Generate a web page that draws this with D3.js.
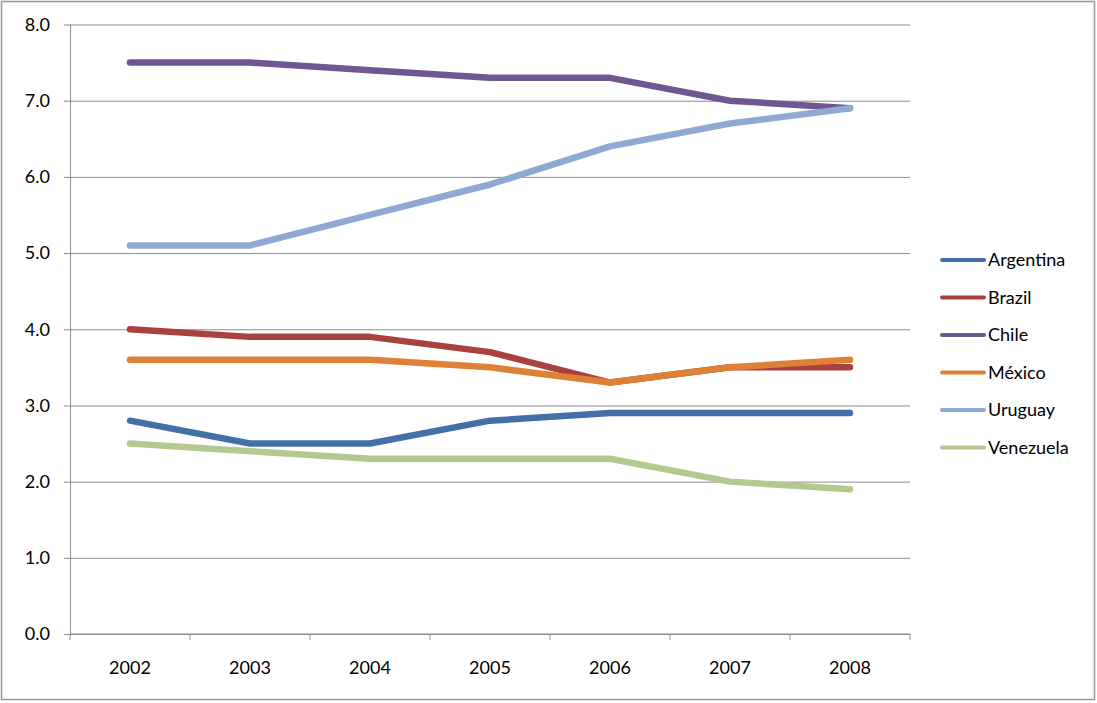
<!DOCTYPE html>
<html>
<head>
<meta charset="utf-8">
<script src="https://cdn.jsdelivr.net/npm/d3@7"></script>
<style>
  body { margin: 0; background: #fff; }
  svg text { font-family: "Lato", "Open Sans", sans-serif; fill: #000; }
</style>
</head>
<body>
<svg id="chart" width="1097" height="703"></svg>
<script>
var years = ["2002", "2003", "2004", "2005", "2006", "2007", "2008"];
var countries = ["Argentina", "Brazil", "Chile", "México", "Uruguay", "Venezuela"];
var argentina = [2.8, 2.5, 2.5, 2.8, 2.9, 2.9, 2.9];
var brazil    = [4.0, 3.9, 3.9, 3.7, 3.3, 3.5, 3.5];
var chile     = [7.5, 7.5, 7.4, 7.3, 7.3, 7.0, 6.9];
var mexico    = [3.6, 3.6, 3.6, 3.5, 3.3, 3.5, 3.6];
var uruguay   = [5.1, 5.1, 5.5, 5.9, 6.4, 6.7, 6.9];
var venezuela = [2.5, 2.4, 2.3, 2.3, 2.3, 2.0, 1.9];
var yTicks = [0, 1, 2, 3, 4, 5, 6, 7, 8];

var series = [argentina, brazil, chile, mexico, uruguay, venezuela].map(function (vals, i) {
  return { name: countries[i], values: vals };
});

var svg = d3.select("#chart"),
  margin = {top: 24.5, right: 187, bottom: 69, left: 70},
  width = +svg.attr("width") - margin.left - margin.right,
  height = +svg.attr("height") - margin.top - margin.bottom;

// outer frame
svg.append("rect")
  .attr("x", 1.5).attr("y", 1.5)
  .attr("width", 1093).attr("height", 698)
  .attr("fill", "none")
  .attr("stroke", "#999")
  .attr("stroke-width", 1.5);

var g = svg.append("g").attr("transform", "translate(" + margin.left + "," + margin.top + ")");

var x = d3.scaleBand().domain(years).range([0, width]);
var y = d3.scaleLinear().domain([0, 8]).range([height, 0]);

var color = d3.scaleOrdinal()
  .domain(countries)
  .range(["#4470a8", "#a9423f", "#6f5792", "#de8137", "#8fa9d2", "#b3c98f"]);

// gridlines
g.append("g")
  .attr("class", "grid")
  .call(d3.axisLeft(y).tickValues(yTicks).tickSize(-width).tickFormat(""))
  .call(function (s) { s.select(".domain").remove(); })
  .selectAll("line").attr("stroke", "#8c8c8c");

// y axis
g.append("g")
  .call(d3.axisLeft(y).tickValues(yTicks).tickSize(6).tickPadding(14).tickFormat(d3.format(".1f")))
  .call(function (s) {
    s.select(".domain").attr("stroke", "#8c8c8c").attr("d", "M0.5," + height + "V0");
    s.selectAll("line").attr("stroke", "#8c8c8c");
    s.selectAll("text").style("font-size", "18px");
  });

// x axis with ticks at band edges
var xAxis = g.append("g").attr("transform", "translate(0," + height + ")");
xAxis.append("line")
  .attr("x1", 0).attr("x2", width)
  .attr("stroke", "#8c8c8c");
xAxis.selectAll(".edge")
  .data(d3.range(years.length + 1))
  .enter().append("line")
  .attr("x1", function (i) { return i === years.length ? width : x(years[i]); })
  .attr("x2", function (i) { return i === years.length ? width : x(years[i]); })
  .attr("y1", 0).attr("y2", 6)
  .attr("stroke", "#8c8c8c");
xAxis.selectAll(".lbl")
  .data(years)
  .enter().append("text")
  .attr("x", function (d) { return x(d) + x.bandwidth() / 2; })
  .attr("y", 40)
  .attr("text-anchor", "middle")
  .style("font-size", "18px")
  .text(function (d) { return d; });

var line = d3.line()
  .x(function (d, i) { return x(years[i]) + x.bandwidth() / 2; })
  .y(function (d) { return y(d); });

g.append("g").attr("class", "lines")
  .selectAll("path")
  .data(series)
  .enter().append("path")
  .attr("d", function (d) { return line(d.values); })
  .attr("fill", "none")
  .attr("stroke", function (d) { return color(d.name); })
  .attr("stroke-width", 6.5)
  .attr("stroke-linecap", "round")
  .attr("stroke-linejoin", "round");

// legend
var legend = svg.append("g").attr("class", "legend")
  .selectAll("g")
  .data(series)
  .enter().append("g")
  .attr("transform", function (d, i) { return "translate(942," + (260 + i * 37.5) + ")"; });

legend.append("line")
  .attr("x1", 0).attr("x2", 42)
  .attr("stroke", function (d) { return color(d.name); })
  .attr("stroke-width", 4)
  .attr("stroke-linecap", "round");

legend.append("text")
  .attr("x", 46)
  .attr("dy", "0.35em")
  .style("font-size", "18px")
  .text(function (d) { return d.name; });
</script>
</body>
</html>
